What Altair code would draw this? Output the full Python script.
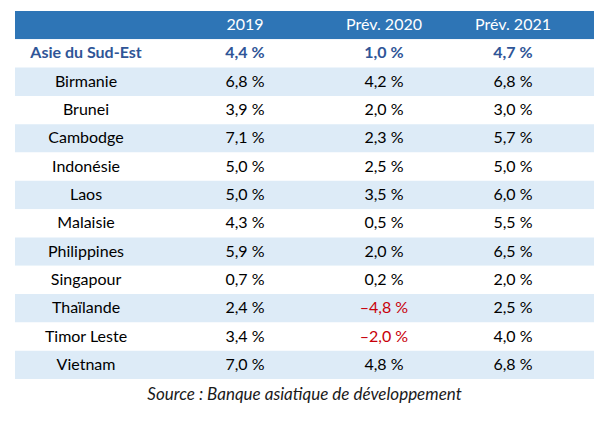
import altair as alt
import pandas as pd

# ---- data ----
countries = ["Asie du Sud-Est", "Birmanie", "Brunei", "Cambodge", "Indonésie", "Laos",
             "Malaisie", "Philippines", "Singapour", "Thaïlande", "Timor Leste", "Vietnam"]
v2019 = [4.4, 6.8, 3.9, 7.1, 5.0, 5.0, 4.3, 5.9, 0.7, 2.4, 3.4, 7.0]
v2020 = [1.0, 4.2, 2.0, 2.3, 2.5, 3.5, 0.5, 2.0, 0.2, -4.8, -2.0, 4.8]
v2021 = [4.7, 6.8, 3.0, 5.7, 5.0, 6.0, 5.5, 6.5, 2.0, 2.5, 4.0, 6.8]
headers = ["", "2019", "Prév. 2020", "Prév. 2021"]
source = "Source : Banque asiatique de développement"

HEADER_KEY = "__entete__"
rows = [HEADER_KEY] + countries


def fmt(v):
    s = f"{abs(v):.1f}".replace(".", ",") + " %"
    return ("\u2013" + s) if v < 0 else s


# background bands
bg = pd.DataFrame({
    "row": rows,
    "kind": ["header"] + [("stripe" if i % 2 == 1 else "plain") for i in range(len(countries))],
})

# cells
cells = []
for ci, h in enumerate(headers):
    cells.append({"row": HEADER_KEY, "ci": ci, "label": h, "kind": "header"})
for i, c in enumerate(countries):
    bold = i == 0
    cells.append({"row": c, "ci": 0, "label": c, "kind": "bold" if bold else "normal"})
    for ci, vals in enumerate([v2019, v2020, v2021], start=1):
        v = vals[i]
        kind = "bold" if bold else ("red" if v < 0 else "normal")
        cells.append({"row": c, "ci": ci, "label": fmt(v), "kind": kind})
cells = pd.DataFrame(cells)

FONT = "Lato"
yenc = alt.Y("row:N", scale=alt.Scale(domain=rows, paddingInner=0, paddingOuter=0), axis=None)
xenc = alt.X("ci:Q", scale=alt.Scale(domain=[0, 1, 2, 3], range=[71, 230, 369, 498]), axis=None)
color_scale = alt.Scale(domain=["header", "bold", "red", "normal"],
                        range=["#FFFFFF", "#2F5597", "#C8000A", "#000000"])

bands = alt.Chart(bg).mark_rect().encode(
    y=yenc,
    color=alt.Color("kind:N", scale=alt.Scale(domain=["header", "stripe", "plain"],
                                               range=["#2E75B6", "#DDEBF7", "#FFFFFF"]), legend=None),
)

normal_text = alt.Chart(cells).transform_filter(alt.datum.kind != "bold").mark_text(
    font=FONT, fontSize=16, baseline="middle", align="center"
).encode(x=xenc, y=yenc, text="label:N",
         color=alt.Color("kind:N", scale=color_scale, legend=None))

bold_text = alt.Chart(cells).transform_filter(alt.datum.kind == "bold").mark_text(
    font=FONT, fontSize=16, fontWeight="bold", baseline="middle", align="center"
).encode(x=xenc, y=yenc, text="label:N",
         color=alt.Color("kind:N", scale=color_scale, legend=None))

chart = alt.layer(bands, normal_text, bold_text).properties(
    width=579, height=368,
    title=alt.TitleParams(source, orient="bottom", anchor="middle", font=FONT, fontSize=17,
                          fontStyle="italic", fontWeight="normal", color="#1A1A1A", offset=8),
    autosize=alt.AutoSizeParams(type="none"),
    padding={"left": 7, "top": 3, "right": 12, "bottom": 30},
).configure_view(stroke=None).resolve_scale(color="independent")

chart.save("out.html", embed_options={"renderer": "svg", "actions": False})
